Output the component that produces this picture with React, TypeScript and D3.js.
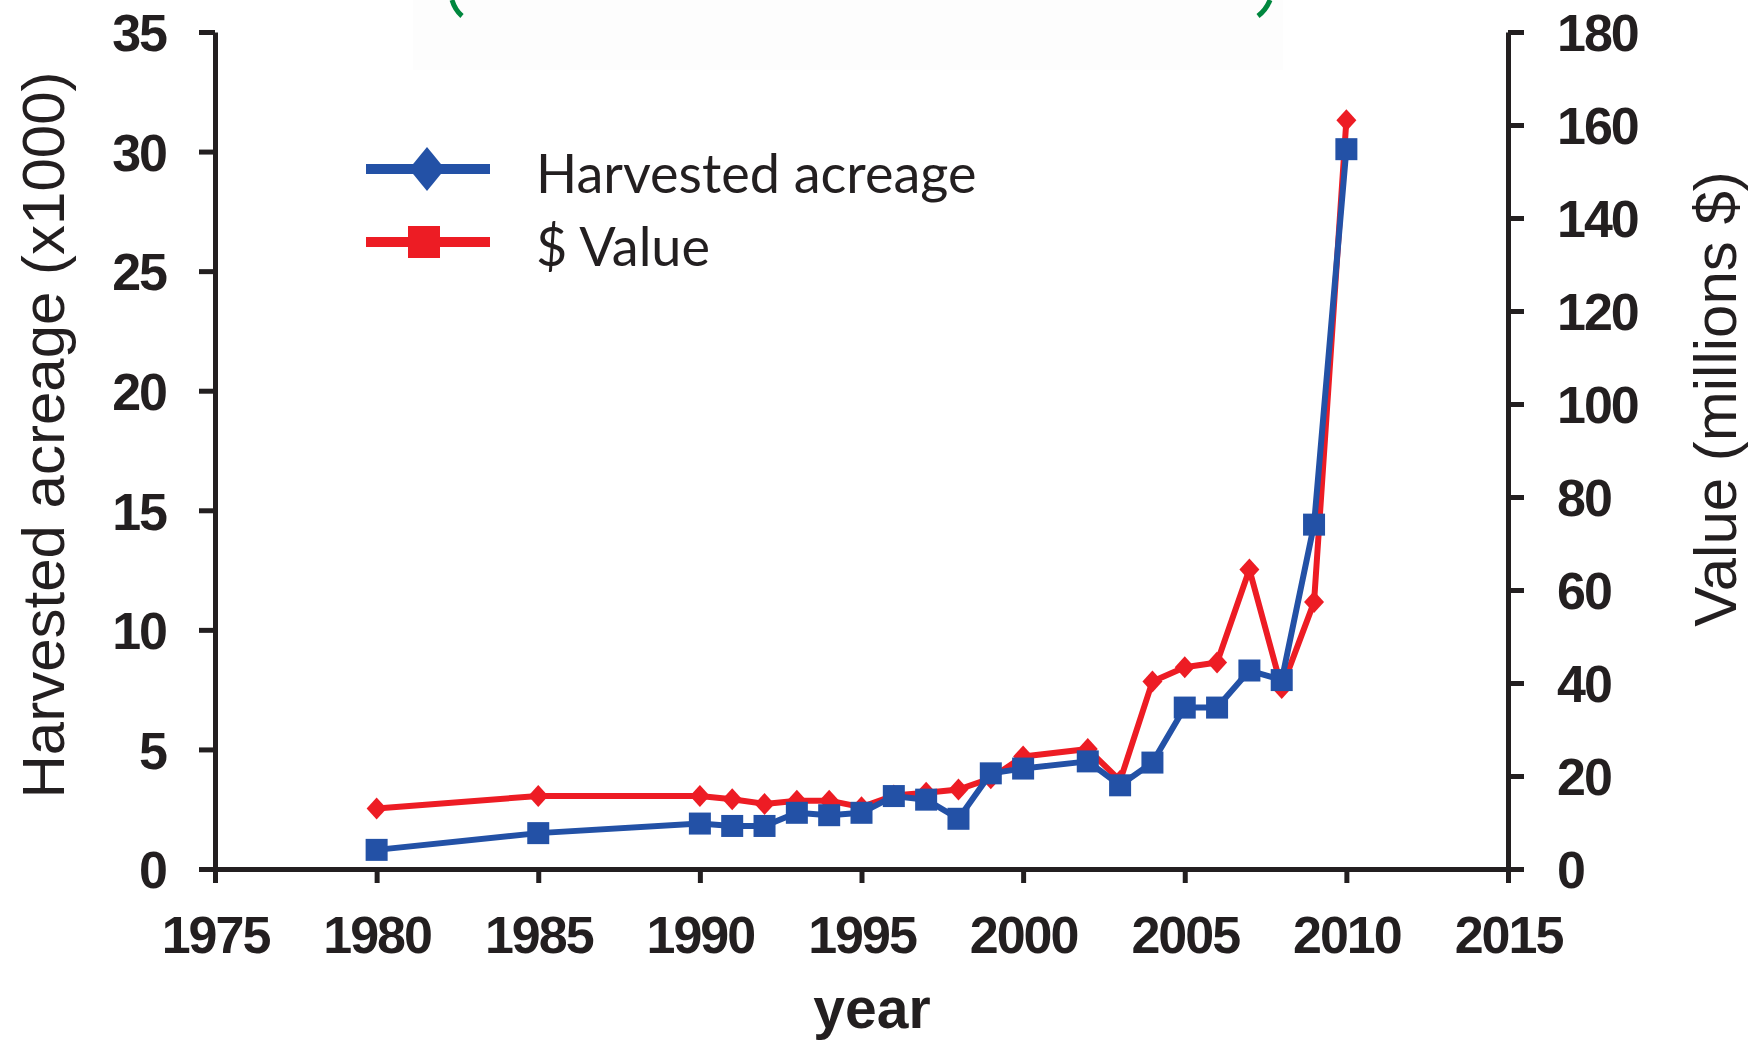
import React, { useEffect, useRef } from "react";
import * as d3 from "d3";

// harvested acreage (x1000), left axis, blue squares
const acreYears = [1980, 1985, 1990, 1991, 1992, 1993, 1994, 1995, 1996, 1997, 1998, 1999, 2000, 2002, 2003, 2004, 2005, 2006, 2007, 2008, 2009, 2010];
const acreage = [0.8, 1.5, 1.9, 1.8, 1.8, 2.35, 2.25, 2.35, 3.05, 2.9, 2.1, 4.0, 4.2, 4.5, 3.5, 4.45, 6.75, 6.75, 8.3, 7.9, 14.4, 30.1];

// $ value (millions), right axis, red diamonds
const valueYears = [1980, 1985, 1990, 1991, 1992, 1993, 1994, 1995, 1996, 1997, 1998, 1999, 2000, 2002, 2003, 2004, 2005, 2006, 2007, 2008, 2009, 2010];
const values = [13.0, 15.7, 15.7, 15.0, 14.0, 14.7, 14.7, 13.3, 15.8, 16.4, 17.1, 19.5, 24.2, 25.8, 19.0, 40.3, 43.4, 44.4, 64.4, 38.9, 57.4, 161];

const xTicks = [1975, 1980, 1985, 1990, 1995, 2000, 2005, 2010, 2015];
const leftTicks = [0, 5, 10, 15, 20, 25, 30, 35];
const rightTicks = [0, 20, 40, 60, 80, 100, 120, 140, 160, 180];

const BLUE = "#2351a6";
const RED = "#ed1c24";
const INK = "#231f20";

export default function App() {
  const ref = useRef<SVGSVGElement>(null);

  useEffect(() => {
    const svg = d3.select(ref.current);
    svg.selectAll("*").remove();

    const x = d3.scaleLinear().domain([1975, 2015]).range([215, 1508]);
    const yL = d3.scaleLinear().domain([0, 35]).range([869, 32]);
    const yR = d3.scaleLinear().domain([0, 180]).range([869, 32]);

    // faint title box cut off at the top
    svg.append("rect").attr("x", 413).attr("y", 0).attr("width", 870).attr("height", 70).attr("fill", "#fdfdfd");
    svg.append("path").attr("d", "M452,0 Q455,10 462,16").attr("stroke", "#00873e").attr("stroke-width", 5).attr("fill", "none");
    svg.append("path").attr("d", "M1270,0 Q1266,10 1258,16").attr("stroke", "#00873e").attr("stroke-width", 5).attr("fill", "none");

    const tickFont = "'Liberation Sans', Arial, sans-serif";

    // x axis
    svg.append("g")
      .attr("transform", "translate(0,869)")
      .call(d3.axisBottom(x).tickValues(xTicks).tickFormat(d3.format("d")).tickSize(14).tickSizeOuter(0))
      .call((g) => g.select(".domain").attr("stroke", INK).attr("stroke-width", 5))
      .call((g) => g.selectAll(".tick line").attr("stroke", INK).attr("stroke-width", 5))
      .call((g) => g.selectAll(".tick text").attr("fill", INK).attr("font-family", tickFont).attr("font-weight", "bold").attr("font-size", 52).attr("letter-spacing", -2).attr("y", 84).attr("dy", 0));

    // left axis
    svg.append("g")
      .attr("transform", "translate(215,0)")
      .call(d3.axisLeft(yL).tickValues(leftTicks).tickSize(16).tickSizeOuter(0))
      .call((g) => g.select(".domain").attr("stroke", INK).attr("stroke-width", 5))
      .call((g) => g.selectAll(".tick line").attr("stroke", INK).attr("stroke-width", 5))
      .call((g) => g.selectAll(".tick text").attr("fill", INK).attr("font-family", tickFont).attr("font-weight", "bold").attr("font-size", 52).attr("letter-spacing", -2).attr("x", -49).attr("dy", "0.36em"));

    // right axis
    svg.append("g")
      .attr("transform", "translate(1508,0)")
      .call(d3.axisRight(yR).tickValues(rightTicks).tickSize(16).tickSizeOuter(0))
      .call((g) => g.select(".domain").attr("stroke", INK).attr("stroke-width", 5))
      .call((g) => g.selectAll(".tick line").attr("stroke", INK).attr("stroke-width", 5))
      .call((g) => g.selectAll(".tick text").attr("fill", INK).attr("font-family", tickFont).attr("font-weight", "bold").attr("font-size", 52).attr("letter-spacing", -2).attr("x", 49).attr("dy", "0.36em"));

    // axis titles
    svg.append("text")
      .attr("transform", "translate(64,435) rotate(-90)")
      .attr("text-anchor", "middle")
      .attr("font-family", tickFont)
      .attr("font-size", 60)
      .attr("fill", INK)
      .text("Harvested acreage (x1000)");

    svg.append("text")
      .attr("transform", "translate(1736,399) rotate(-90)")
      .attr("text-anchor", "middle")
      .attr("font-family", tickFont)
      .attr("font-size", 60)
      .attr("fill", INK)
      .text("Value (millions $)");

    svg.append("text")
      .attr("x", 872)
      .attr("y", 1028)
      .attr("text-anchor", "middle")
      .attr("font-family", tickFont)
      .attr("font-weight", "bold")
      .attr("font-size", 57)
      .attr("fill", INK)
      .text("year");

    // series
    const valueData = valueYears.map((yr, i) => [yr, values[i]] as [number, number]);
    const acreData = acreYears.map((yr, i) => [yr, acreage[i]] as [number, number]);

    const lineR = d3.line<[number, number]>().x((d) => x(d[0])).y((d) => yR(d[1]));
    const lineL = d3.line<[number, number]>().x((d) => x(d[0])).y((d) => yL(d[1]));

    svg.append("path").attr("d", lineR(valueData)).attr("fill", "none").attr("stroke", RED).attr("stroke-width", 6).attr("stroke-linejoin", "round");
    svg.selectAll(".dia")
      .data(valueData)
      .join("path")
      .attr("class", "dia")
      .attr("d", "M0,-11 L10,0 L0,11 L-10,0 Z")
      .attr("transform", (d) => `translate(${x(d[0])},${yR(d[1])})`)
      .attr("fill", RED);

    svg.append("path").attr("d", lineL(acreData)).attr("fill", "none").attr("stroke", BLUE).attr("stroke-width", 6).attr("stroke-linejoin", "round");
    svg.selectAll(".sq")
      .data(acreData)
      .join("rect")
      .attr("class", "sq")
      .attr("x", (d) => x(d[0]) - 11)
      .attr("y", (d) => yL(d[1]) - 11)
      .attr("width", 22)
      .attr("height", 22)
      .attr("fill", BLUE);

    // legend
    const legend = [
      { label: "Harvested acreage", color: BLUE, y: 169, shape: "diamond" },
      { label: "$ Value", color: RED, y: 242, shape: "square" },
    ];
    const lg = svg.append("g");
    legend.forEach((l) => {
      lg.append("line").attr("x1", 366).attr("x2", 490).attr("y1", l.y).attr("y2", l.y).attr("stroke", l.color).attr("stroke-width", 10);
      if (l.shape === "diamond") {
        lg.append("path").attr("d", "M0,-22 L18,0 L0,22 L-18,0 Z").attr("transform", `translate(427,${l.y})`).attr("fill", l.color);
      } else {
        lg.append("rect").attr("x", 408).attr("y", l.y - 16).attr("width", 32).attr("height", 32).attr("fill", l.color);
      }
      lg.append("text")
        .attr("x", 536)
        .attr("y", l.y + 24)
        .attr("font-family", "Lato, 'Liberation Sans', sans-serif")
        .attr("font-size", 54)
        .attr("fill", INK)
        .text(l.label);
    });
  }, []);

  return (
    <svg
      ref={ref}
      width={1762}
      height={1047}
      style={{ position: "absolute", left: 0, top: 0, background: "#fff" }}
    />
  );
}
